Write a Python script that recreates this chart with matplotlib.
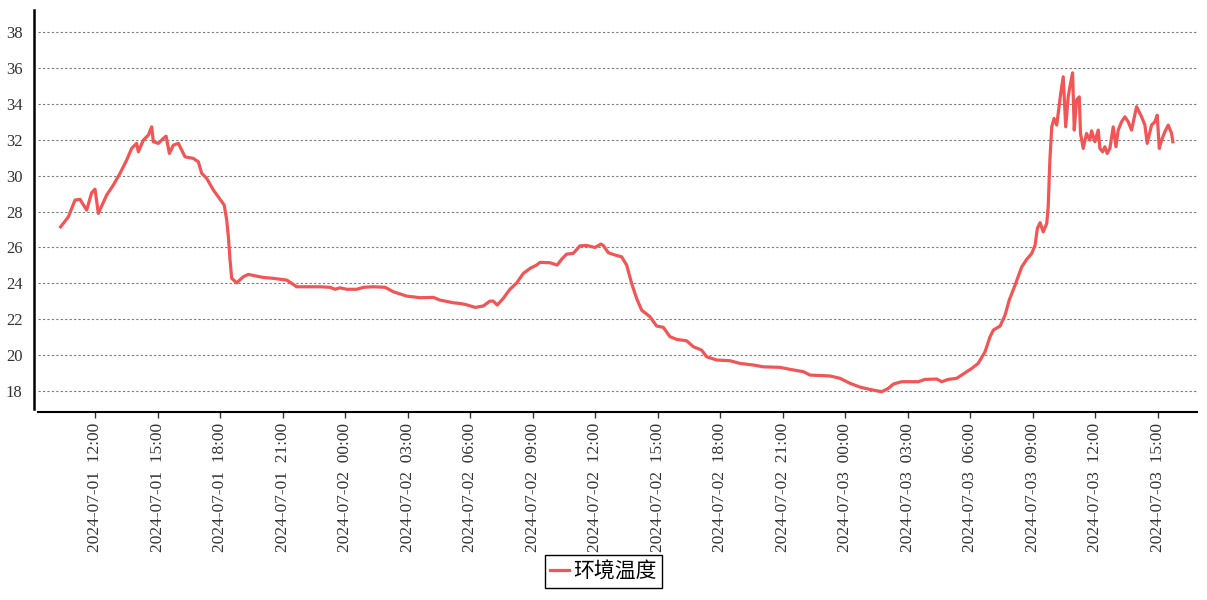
import numpy as np
import pandas as pd
import matplotlib
matplotlib.use('Agg')
from matplotlib import pyplot as plt
import matplotlib.dates as mdates

# hours since 2024-07-01 00:00, temperature (°C)
hours = [10.35, 10.48, 10.72, 11.04, 11.28, 11.6, 11.84, 12.0, 12.16, 12.56,
         12.88, 13.2, 13.52, 13.76, 14.0, 14.08, 14.32, 14.56, 14.72, 14.8,
         15.04, 15.28, 15.41, 15.57, 15.76, 16.0, 16.32, 16.72, 16.96, 17.12,
         17.36, 17.68, 18.0, 18.2, 18.32, 18.4, 18.48, 18.56, 18.8, 19.12,
         19.36, 19.76, 20.08, 20.56, 21.2, 21.44, 21.68, 22.8, 23.28, 23.52,
         23.76, 24.08, 24.56, 24.88, 25.36, 25.92, 26.32, 26.96, 27.6, 28.23,
         28.55, 29.19, 29.51, 29.76, 30.24, 30.63, 30.95, 31.11, 31.3, 31.59,
         31.91, 32.24, 32.55, 32.87, 33.19, 33.35, 33.83, 34.18, 34.39, 34.63,
         34.95, 35.27, 35.59, 35.99, 36.28, 36.39, 36.63, 36.95, 37.27, 37.51,
         37.75, 37.99, 38.23, 38.63, 38.95, 39.27, 39.59, 39.91, 40.39, 40.71,
         41.11, 41.35, 41.83, 42.47, 42.95, 43.59, 44.07, 44.87, 45.35, 45.99,
         46.31, 47.27, 47.75, 48.23, 48.71, 49.19, 49.75, 50.07, 50.31, 50.71,
         51.11, 51.5, 51.83, 52.39, 52.63, 52.95, 53.35, 53.66, 54.07, 54.38,
         54.71, 54.95, 55.11, 55.43, 55.67, 55.87, 56.15, 56.47, 56.71, 56.95,
         57.11, 57.22, 57.35, 57.5, 57.67, 57.74, 57.82, 57.91, 58.02, 58.15,
         58.22, 58.34, 58.46, 58.58, 58.7, 58.78, 58.91, 58.99, 59.1, 59.23,
         59.29, 59.42, 59.58, 59.74, 59.82, 59.98, 60.14, 60.22, 60.35, 60.46,
         60.57, 60.7, 60.86, 60.99, 61.1, 61.26, 61.42, 61.58, 61.74, 61.98,
         62.22, 62.38, 62.49, 62.7, 62.86, 62.97, 63.07, 63.18, 63.34, 63.5,
         63.66, 63.72]
temps = [27.15, 27.34, 27.7, 28.64, 28.68, 28.08, 29.05, 29.25, 27.9, 28.92,
         29.48, 30.13, 30.87, 31.52, 31.8, 31.33, 31.98, 32.26, 32.72, 31.89,
         31.8, 32.08, 32.2, 31.24, 31.7, 31.8, 31.05, 30.96, 30.77, 30.13,
         29.85, 29.2, 28.68, 28.36, 27.53, 26.6, 25.3, 24.28, 24.03, 24.37,
         24.5, 24.4, 24.33, 24.28, 24.18, 24.0, 23.81, 23.81, 23.78, 23.67,
         23.75, 23.67, 23.67, 23.78, 23.81, 23.78, 23.53, 23.29, 23.2, 23.22,
         23.07, 22.92, 22.88, 22.83, 22.66, 22.74, 23.01, 23.01, 22.79, 23.16,
         23.67, 24.03, 24.55, 24.83, 25.02, 25.17, 25.15, 25.02, 25.34, 25.63,
         25.67, 26.09, 26.11, 26.0, 26.19, 26.11, 25.71, 25.58, 25.48, 25.02,
         24.0, 23.16, 22.51, 22.14, 21.62, 21.55, 21.03, 20.88, 20.8, 20.47,
         20.28, 19.91, 19.73, 19.69, 19.54, 19.45, 19.35, 19.32, 19.21, 19.08,
         18.89, 18.84, 18.71, 18.43, 18.22, 18.09, 17.96, 18.15, 18.39, 18.52,
         18.52, 18.52, 18.65, 18.67, 18.52, 18.65, 18.71, 18.95, 19.26, 19.54,
         20.19, 21.03, 21.4, 21.62, 22.23, 23.07, 23.9, 24.92, 25.34, 25.67,
         26.13, 27.06, 27.38, 26.87, 27.34, 28.27, 30.87, 32.72, 33.19, 32.82,
         33.47, 34.58, 35.51, 32.72, 34.39, 34.95, 35.73, 32.54, 34.21, 34.39,
         32.35, 31.52, 32.35, 31.98, 32.5, 31.89, 32.54, 31.52, 31.33, 31.61,
         31.24, 31.52, 32.72, 31.61, 32.54, 33.0, 33.28, 33.0, 32.54, 33.84,
         33.28, 32.82, 31.8, 32.82, 33.0, 33.37, 31.52, 31.98, 32.45, 32.82,
         32.35, 31.89]
yticks = [18, 20, 22, 24, 26, 28, 30, 32, 34, 36, 38]
label = '环境温度'

start = pd.Timestamp('2024-07-01 00:00')
times = start + pd.to_timedelta(hours, unit='h')

fig = plt.figure(figsize=(12.07, 6.0), dpi=100)
ax = fig.add_axes([38 / 1207, 1 - 409 / 600, 1159 / 1207, 399 / 600])

ax.plot(times, temps, color='#F25555', lw=2.3, label=label)

ax.set_xlim(start + pd.Timedelta(hours=9.265), start + pd.Timedelta(hours=64.88))
ax.set_ylim(17.0, 39.23)
ax.set_yticks(yticks)
ax.grid(axis='y', color='#777777', linestyle=(0, (2, 2)), linewidth=0.8)
ax.set_axisbelow(True)

ax.xaxis.set_major_locator(mdates.HourLocator(byhour=range(0, 24, 3)))
ax.xaxis.set_major_formatter(mdates.DateFormatter('%Y-%m-%d  %H:%M'))

ax.tick_params(axis='x', length=4, width=1, pad=4, labelsize=12.5, colors='#333333',
               labelrotation=90, labelfontfamily='Liberation Serif')
ax.tick_params(axis='y', length=0, pad=8, labelsize=12, colors='#333333',
               labelfontfamily='Liberation Serif')

for s in ['top', 'right']:
    ax.spines[s].set_visible(False)
ax.spines['left'].set_position(('outward', 3))
ax.spines['left'].set_linewidth(1.8)
ax.spines['bottom'].set_position(('outward', 2))
ax.spines['bottom'].set_linewidth(1.5)

leg = fig.legend(loc='lower center', bbox_to_anchor=(0.5, 0.003),
                 prop={'family': ['Noto Sans CJK SC', 'DejaVu Sans'], 'size': 15},
                 handlelength=0.9, handletextpad=0.2, borderpad=0.25,
                 fancybox=False, edgecolor='black', framealpha=1)
leg.get_frame().set_linewidth(1.0)

plt.savefig('out.png', dpi=100)
plt.close()
